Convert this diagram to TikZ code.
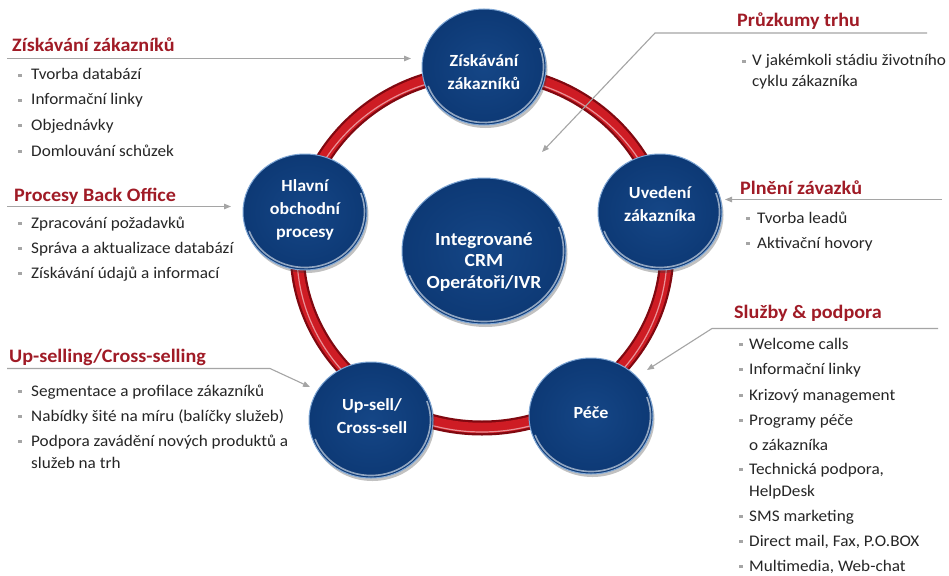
\documentclass[tikz,border=0pt]{standalone}
\usepackage{fontspec}
\setmainfont{Carlito}[FakeStretch=1.06]
\usetikzlibrary{shapes.geometric,arrows.meta,shadows,calc}

\definecolor{headred}{RGB}{160,27,38}
\definecolor{txtdark}{RGB}{38,38,38}
\definecolor{linegray}{RGB}{165,165,165}
\definecolor{bulgray}{RGB}{165,165,165}
\definecolor{blueOut}{RGB}{13,57,117}
\definecolor{blueIn}{RGB}{21,70,134}
\definecolor{blueRim}{RGB}{125,165,212}
\definecolor{ringdark}{RGB}{128,8,16}
\definecolor{ringmid}{RGB}{206,28,36}
\definecolor{ringhi}{RGB}{240,175,180}

\begin{document}
\begin{tikzpicture}[x=1pt,y=-1pt,
  bodytxt/.style={anchor=base west, inner sep=0pt, text=txtdark,
    font=\fontsize{16.2}{19}\selectfont},
  headtxt/.style={anchor=base west, inner sep=0pt, text=headred,
    font=\bfseries\fontsize{19}{22}\selectfont},
  bulletsq/.style={rectangle, fill=bulgray, minimum size=3.6pt, inner sep=0pt},
  conn/.style={draw=linegray, line width=1.1pt,
    -{Triangle[length=7pt,width=5.5pt]}},
  btn/.style={ellipse, minimum width=124pt, minimum height=116pt, inner sep=0pt,
    shading=radial, inner color=blueIn, outer color=blueOut,
    draw=blueRim, line width=1pt,
    drop shadow={shadow xshift=1.5pt, shadow yshift=-3pt, opacity=0.3, fill=black!80}},
  hub/.style={btn, minimum width=164pt, minimum height=146pt},
  btntxt/.style={align=center, inner sep=0pt, text=white,
    font=\bfseries\fontsize{17}{23}\selectfont},
  hubtxt/.style={btntxt, font=\bfseries\fontsize{18.5}{21.5}\selectfont},
  glow/.style={white, opacity=0.55, line width=1.6pt}
]
\useasboundingbox (0,0) rectangle (949,575);
\fill[white] (0,0) rectangle (949,575);

% red ring joining the stages
\coordinate (ringc) at (482,250);
\draw[ringdark, line width=15pt] (ringc) ellipse [x radius=185, y radius=178];
\draw[ringmid, line width=10.5pt] (ringc) ellipse [x radius=185, y radius=178];
\draw[ringhi, line width=1.2pt, opacity=0.8] ([yshift=-4pt]ringc) ellipse [x radius=185, y radius=178];

% stage buttons
\node[btn] (Z) at (484,67) {};
\node[btn] (U) at (660,212) {};
\node[btn] (P) at (591,416) {};
\node[btn] (C) at (371,420) {};
\node[btn] (H) at (305,212) {};
\node[hub] (M) at (484,251) {};

% glassy lower rim of each button
\foreach \n in {Z,U,P,C,H}
  \draw[glow] (\n.center) ++(-20:59.5 and 55.5)
    arc[start angle=-20, end angle=160, x radius=59.5, y radius=55.5];
\draw[glow] (M.center) ++(-20:79.5 and 70.5)
  arc[start angle=-20, end angle=160, x radius=79.5, y radius=70.5];

% button captions
\node[btntxt] (Zt) at (484,72) {Získávání\\zákazníků};
\node[btntxt] (Ut) at (660,204) {Uvedení\\zákazníka};
\node[btntxt] (Pt) at (591,413) {Péče};
\node[btntxt] (Ct) at (372,416) {Up-sell/\\Cross-sell};
\node[btntxt] (Ht) at (305,210) {Hlavní\\obchodní\\procesy};
\node[hubtxt] (Mt) at (484,262) {Integrované\\CRM\\Operátoři/IVR};

% ---- Získávání zákazníků
\node[headtxt] (tz) at (12,52) {Získávání zákazníků};
\coordinate (zs) at (7,58.5);
\coordinate (zt) at (411,58.5);
\draw[conn] (zs) -- (zt);
\foreach \y/\t [count=\i] in {80/Tvorba databází, 105/Informační linky,
    130/Objednávky, 156/Domlouvání schůzek}{
  \node[bodytxt] (za\i) at (31,\y) {\t};
  \node[bulletsq] (zb\i) at (20,\y-4.5) {};
}

% ---- Procesy Back Office
\node[headtxt] (tp) at (14,201) {Procesy Back Office};
\coordinate (ps) at (7,206.5);
\coordinate (pt) at (231,206.5);
\draw[conn] (ps) -- (pt);
\foreach \y/\t [count=\i] in {228/Zpracování požadavků,
    253/Správa a aktualizace databází, 278/Získávání údajů a informací}{
  \node[bodytxt] (pa\i) at (31,\y) {\t};
  \node[bulletsq] (pb\i) at (20,\y-4.5) {};
}

% ---- Up-selling/Cross-selling
\node[headtxt] (tc) at (9,362) {Up-selling/Cross-selling};
\coordinate (cs) at (7,368.5);
\coordinate (cb) at (270,368.5);
\coordinate (ct) at (310,387);
\draw[conn] (cs) -- (cb) -- (ct);
\foreach \y/\t [count=\i] in {396/Segmentace a profilace  zákazníků,
    421/Nabídky šité na míru (balíčky služeb),
    446/Podpora zavádění nových produktů a}{
  \node[bodytxt] (ca\i) at (31,\y) {\t};
  \node[bulletsq] (cb\i) at (20,\y-4.5) {};
}
\node[bodytxt] (ca4) at (31,468) {služeb na trh};

% ---- Průzkumy trhu
\node[headtxt] (tm) at (737,27) {Průzkumy trhu};
\coordinate (ms) at (927,33);
\coordinate (mb) at (655,33);
\coordinate (mt) at (542,152);
\draw[conn] (ms) -- (mb) -- (mt);
\node[bodytxt] (ma1) at (752,66) {V jakémkoli stádiu životního};
\node[bulletsq] (mb1) at (744,61.5) {};
\node[bodytxt] (ma2) at (752,87) {cyklu zákazníka};

% ---- Plnění závazků
\node[headtxt] (tf) at (740,194) {Plnění závazků};
\coordinate (fs) at (942,199.5);
\coordinate (ft) at (725,199.5);
\draw[conn] (fs) -- (ft);
\foreach \y/\t [count=\i] in {223/Tvorba leadů, 248/Aktivační hovory}{
  \node[bodytxt] (fa\i) at (757,\y) {\t};
  \node[bulletsq] (fb\i) at (748,\y-4.5) {};
}

% ---- Služby & podpora
\node[headtxt] (ts) at (734,318) {Služby \& podpora};
\coordinate (ss) at (938,328.5);
\coordinate (sb) at (712,328.5);
\coordinate (st) at (647,370);
\draw[conn] (ss) -- (sb) -- (st);
\foreach \y/\t [count=\i] in {349/Welcome calls, 374/Informační linky,
    400/Krizový management, 425/Programy péče, 474/{Technická podpora,},
    521/SMS marketing, {546/Direct mail, Fax, P.O.BOX},
    {571/Multimedia, Web-chat}}{
  \node[bodytxt] (sa\i) at (749,\y) {\t};
  \node[bulletsq] (sq\i) at (741,\y-4.5) {};
}
\node[bodytxt] (sc1) at (749,450) {o zákazníka};
\node[bodytxt] (sc2) at (749,496) {HelpDesk};
\end{tikzpicture}
\end{document}
